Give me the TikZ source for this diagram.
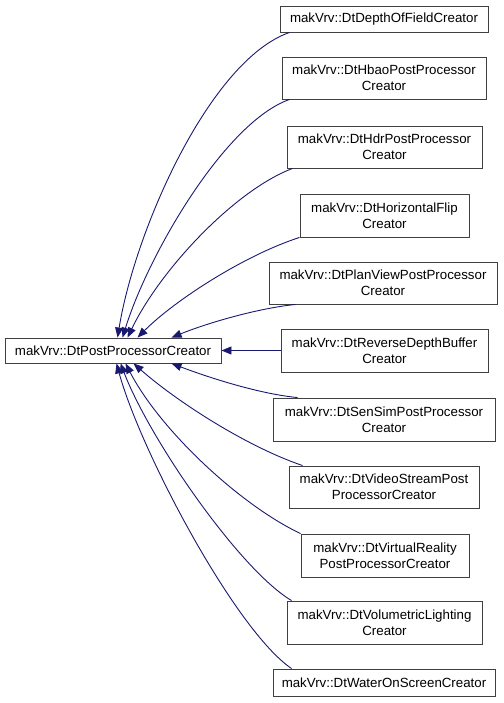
\documentclass[tikz,border=0pt]{standalone}
\usepackage{fontspec}
\setmainfont{Liberation Sans}
\usetikzlibrary{arrows.meta,calc}
\definecolor{edgeblue}{RGB}{25,25,112}
\definecolor{boxgray}{RGB}{64,64,64}
\tikzset{
  cls/.style={draw=boxgray, line width=0.9pt, fill=white, inner sep=0pt, align=center,
    font=\fontsize{13.3}{15.6}\selectfont},
  edge/.style={draw=edgeblue, line width=0.9pt, -{Triangle[length=10pt,width=8pt]}}
}
\begin{document}
\begin{tikzpicture}[x=1pt,y=-1pt]
\useasboundingbox (0,0) rectangle (503,703);
\node[cls, minimum width=216pt, minimum height=25pt] (base) at (113,350.5) {makVrv::DtPostProcessorCreator};
\node[cls, minimum width=208pt, minimum height=26pt] (n1) at (384,19) {makVrv::DtDepthOfFieldCreator};
\node[cls, minimum width=204pt, minimum height=42pt] (n2) at (384,78) {makVrv::DtHbaoPostProcessor\\Creator};
\node[cls, minimum width=195pt, minimum height=42pt] (n3) at (384.5,147) {makVrv::DtHdrPostProcessor\\Creator};
\node[cls, minimum width=169pt, minimum height=43pt] (n4) at (384.5,215.5) {makVrv::DtHorizontalFlip\\Creator};
\node[cls, minimum width=228pt, minimum height=42pt] (n5) at (383,283) {makVrv::DtPlanViewPostProcessor\\Creator};
\node[cls, minimum width=207pt, minimum height=43pt] (n6) at (384.5,350.5) {makVrv::DtReverseDepthBuffer\\Creator};
\node[cls, minimum width=222pt, minimum height=43pt] (n7) at (384,419.5) {makVrv::DtSenSimPostProcessor\\Creator};
\node[cls, minimum width=190pt, minimum height=42pt] (n8) at (384,487) {makVrv::DtVideoStreamPost\\ProcessorCreator};
\node[cls, minimum width=168pt, minimum height=43pt] (n9) at (385,555.5) {makVrv::DtVirtualReality\\PostProcessorCreator};
\node[cls, minimum width=195pt, minimum height=43pt] (n10) at (384.5,622.5) {makVrv::DtVolumetricLighting\\Creator};
\node[cls, minimum width=222pt, minimum height=27pt] (n11) at (384,682.5) {makVrv::DtWaterOnScreenCreator};

\draw[edge] ($(n1.south west)+(10,0)$) .. controls (210,60) and (135,230) .. ($(base.north west)+(113,0)$);
\draw[edge] ($(n2.south west)+(8,0)$) .. controls (225,122) and (148,255) .. ($(base.north west)+(118,0)$);
\draw[edge] ($(n3.south west)+(6,0)$) .. controls (235,190) and (160,270) .. ($(base.north west)+(123,0)$);
\draw[edge] (n4.south west) .. controls (245,255) and (175,300) .. ($(base.north west)+(133,0)$);
\draw[edge] ($(n5.south west)+(27,0)$) .. controls (260,308) and (210,322) .. ($(base.north west)+(167,0)$);
\draw[edge] (n6.west) -- (base.east);
\draw[edge] ($(n7.north west)+(25,0)$) .. controls (260,394) and (210,378) .. ($(base.south west)+(167,0)$);
\draw[edge] ($(n8.north west)+(14,0)$) .. controls (245,446) and (175,400) .. ($(base.south west)+(129,0)$);
\draw[edge] (n9.north west) .. controls (240,505) and (160,430) .. ($(base.south west)+(121,0)$);
\draw[edge] ($(n10.north west)+(5,0)$) .. controls (240,570) and (150,440) .. ($(base.south west)+(116,0)$);
\draw[edge] ($(n11.north west)+(19,0)$) .. controls (235,630) and (140,450) .. ($(base.south west)+(112,0)$);
\end{tikzpicture}
\end{document}
